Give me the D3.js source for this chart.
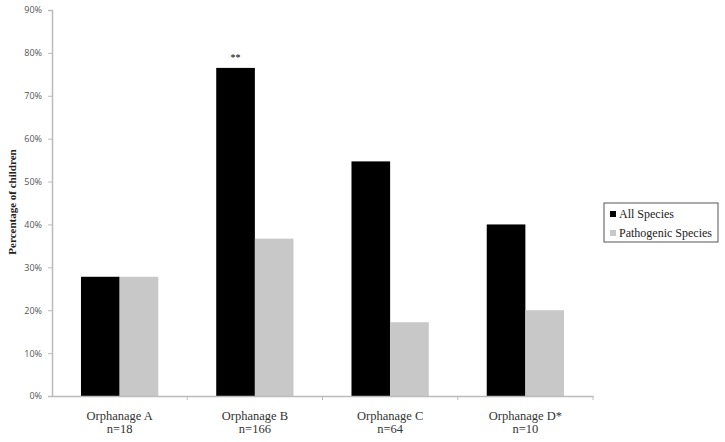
<!DOCTYPE html>
<html>
<head>
<meta charset="utf-8">
<script src="https://cdn.jsdelivr.net/npm/d3@7"></script>
<style>
  body { margin: 0; background: #fff; }
  .tick text { font-family: "Open Sans", "Liberation Sans", sans-serif; font-size: 9px; fill: #555; }
  .cat text { font-family: "Liberation Serif", serif; font-size: 12.5px; fill: #333; }
</style>
</head>
<body>
<div id="chart"></div>
<script>
var svgWidth = 725;
var svgHeight = 442;

// chart data
var orphanages = ["Orphanage A", "Orphanage B", "Orphanage C", "Orphanage D*"];
var sampleSizes = ["n=18", "n=166", "n=64", "n=10"];
var seriesNames = ["All Species", "Pathogenic Species"];
var allSpecies = [0.278, 0.765, 0.547, 0.40];
var pathogenicSpecies = [0.278, 0.367, 0.172, 0.20];
var significance = ["", "**", "", ""];
var yTicks = [0, 0.1, 0.2, 0.3, 0.4, 0.5, 0.6, 0.7, 0.8, 0.9];

var colors = ["#000000", "#c8c8c8"];

var margin = { top: 10, right: 132, bottom: 46, left: 52 };
var width = svgWidth - margin.left - margin.right;
var height = svgHeight - margin.top - margin.bottom;

var svg = d3.select("#chart")
  .append("svg")
  .attr("width", svgWidth)
  .attr("height", svgHeight);

var chartGroup = svg.append("g")
  .attr("transform", `translate(${margin.left}, ${margin.top})`);

// scales
var x0 = d3.scaleBand()
  .domain(orphanages)
  .range([0, width])
  .padding(0);

var x1 = d3.scaleBand()
  .domain(seriesNames)
  .range([0, x0.bandwidth()])
  .paddingInner(0)
  .paddingOuter(0.75);

var y = d3.scaleLinear()
  .domain([0, 0.9])
  .range([height, 0]);

// y axis
var leftAxis = d3.axisLeft(y)
  .tickValues(yTicks)
  .tickFormat(d3.format(".0%"))
  .tickSize(4)
  .tickPadding(6);

var yAxis = chartGroup.append("g")
  .call(leftAxis);
yAxis.select(".domain").attr("stroke", "#bbb").attr("stroke-width", 1.5);
yAxis.selectAll(".tick line").attr("stroke", "#bbb");

// bars
var data = orphanages.map((o, i) => ({
  name: o,
  values: [
    { key: seriesNames[0], value: allSpecies[i] },
    { key: seriesNames[1], value: pathogenicSpecies[i] }
  ]
}));

var groups = chartGroup.selectAll(".group")
  .data(data)
  .enter()
  .append("g")
  .attr("class", "group")
  .attr("transform", d => `translate(${x0(d.name)}, 0)`);

groups.selectAll("rect")
  .data(d => d.values)
  .enter()
  .append("rect")
  .attr("x", d => x1(d.key))
  .attr("y", d => y(d.value))
  .attr("width", x1.bandwidth())
  .attr("height", d => height - y(d.value))
  .attr("fill", (d, i) => colors[i]);

// significance markers
chartGroup.selectAll(".sig")
  .data(orphanages)
  .enter()
  .append("text")
  .attr("x", d => x0(d) + x1(seriesNames[0]) + x1.bandwidth() / 2)
  .attr("y", (d, i) => y(allSpecies[i]) - 7)
  .attr("text-anchor", "middle")
  .style("font-family", "Liberation Serif, serif")
  .style("font-size", "10px")
  .text((d, i) => significance[i]);

// x axis
var bottomAxis = d3.axisBottom(x0).tickSize(0).tickFormat("");
var xAxis = chartGroup.append("g")
  .attr("transform", `translate(0, ${height})`)
  .call(bottomAxis);
xAxis.select(".domain").attr("stroke", "#bbb").attr("stroke-width", 1.5);

xAxis.selectAll(".bound")
  .data(orphanages)
  .enter()
  .append("line")
  .attr("x1", d => x0(d) + x0.bandwidth())
  .attr("x2", d => x0(d) + x0.bandwidth())
  .attr("y1", 0)
  .attr("y2", 4)
  .attr("stroke", "#bbb");

var catLabels = xAxis.selectAll(".cat")
  .data(orphanages)
  .enter()
  .append("g")
  .attr("class", "cat")
  .attr("transform", d => `translate(${x0(d) + x0.bandwidth() / 2}, 0)`);

catLabels.append("text")
  .attr("y", 24)
  .attr("text-anchor", "middle")
  .text(d => d);

catLabels.append("text")
  .attr("y", 37)
  .attr("text-anchor", "middle")
  .text((d, i) => sampleSizes[i]);

// y axis title
svg.append("text")
  .attr("transform", "rotate(-90)")
  .attr("x", -202)
  .attr("y", 16)
  .attr("text-anchor", "middle")
  .style("font-family", "Liberation Serif, serif")
  .style("font-weight", "bold")
  .style("font-size", "11px")
  .style("fill", "#222")
  .text("Percentage of children");

// legend
var legend = svg.append("g")
  .attr("transform", "translate(604, 203)");

legend.append("rect")
  .attr("width", 114)
  .attr("height", 39)
  .attr("fill", "#fff")
  .attr("stroke", "#555")
  .attr("stroke-width", 1);

var legendItems = legend.selectAll(".item")
  .data(seriesNames)
  .enter()
  .append("g")
  .attr("transform", (d, i) => `translate(6, ${8 + i * 19})`);

legendItems.append("rect")
  .attr("width", 6)
  .attr("height", 6)
  .attr("fill", (d, i) => colors[i]);

legendItems.append("text")
  .attr("x", 9)
  .attr("y", 7)
  .style("font-family", "Liberation Serif, serif")
  .style("font-size", "12px")
  .style("fill", "#222")
  .text(d => d);
</script>
</body>
</html>
